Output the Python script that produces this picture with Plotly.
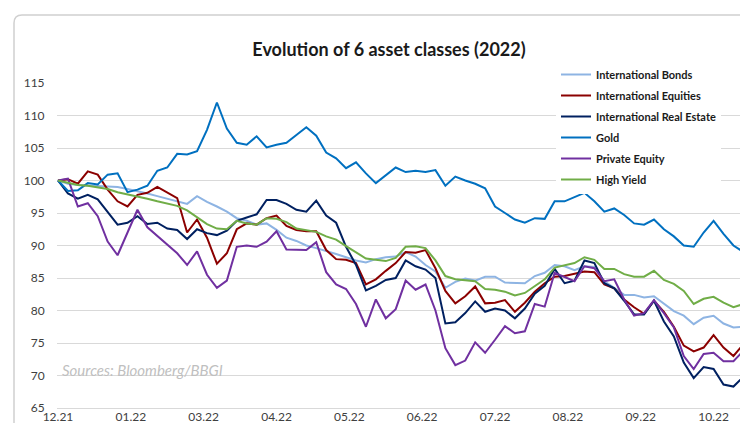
import plotly.graph_objects as go

# trading-day index of each sampled point (every 3rd session, last one is the final day)
day_index = list(range(0, 208, 3)) + [209]

tick_pos = [0, 22, 44, 66, 88, 110, 132, 154, 176, 198]
tick_labels = ["12.21", "01.22", "03.22", "04.22", "05.22",
               "06.22", "07.22", "08.22", "09.22", "10.22"]

intl_bonds = [
    100, 99.5, 99.3, 99.2, 99.1, 99.1, 99.0, 98.7, 98.4, 98.0,
    97.6, 97.2, 96.7, 96.4, 97.6, 96.7, 96.0, 95.2, 94.2, 93.8,
    93.2, 93.4, 92.4, 91.2, 90.7, 90.0, 89.6, 89.2, 88.7, 88.2,
    87.7, 87.4, 87.9, 88.2, 88.3, 89.0, 88.3, 87.0, 86.0, 83.5,
    84.4, 84.9, 84.6, 85.2, 85.2, 84.3, 84.3, 84.2, 85.3, 85.8,
    87.0, 86.8, 86.2, 86.8, 86.7, 84.5, 83.5, 82.4, 82.4, 82.0,
    82.2, 81.0, 79.9, 79.2, 77.9, 78.9, 79.2, 78.0, 77.4, 77.5,
    76.7]

intl_equities = [
    100, 100.2, 99.5, 101.4, 100.9, 98.6, 96.8, 96.0, 97.8, 98.1,
    99.0, 98.2, 97.3, 92.0, 94.0, 91.2, 87.2, 88.8, 92.5, 93.4,
    93.2, 94.2, 94.6, 93.0, 92.4, 92.2, 92.2, 89.3, 87.9, 87.8,
    87.3, 84.0, 84.8, 86.1, 87.3, 89.0, 88.9, 89.3, 86.5, 83.0,
    81.1, 82.2, 83.7, 81.1, 81.2, 81.6, 79.8, 81.2, 82.9, 84.2,
    85.2, 85.3, 85.7, 86.0, 85.9, 84.0, 83.4, 81.7, 80.5, 79.5,
    81.5, 79.8, 77.5, 74.6, 73.7, 74.3, 76.2, 74.3, 73.0, 74.8,
    74.0]

intl_real_estate = [
    100, 98.0, 97.2, 97.8, 97.1, 95.2, 93.2, 93.5, 94.5, 93.3,
    93.5, 92.6, 92.4, 91.0, 92.5, 91.9, 91.6, 92.3, 93.8, 94.3,
    94.8, 97.0, 97.0, 96.4, 95.5, 95.2, 96.9, 94.6, 93.5, 89.8,
    87.0, 83.1, 83.8, 84.7, 85.0, 87.7, 86.8, 86.3, 85.0, 78.0,
    78.2, 79.6, 81.4, 79.8, 80.3, 80.0, 78.8, 80.3, 82.6, 83.8,
    86.4, 84.2, 84.6, 87.7, 87.3, 84.2, 83.4, 81.5, 79.4, 79.4,
    81.5, 78.3, 76.0, 72.0, 69.6, 71.3, 71.0, 68.6, 68.3, 69.8,
    68.8]

gold = [
    100, 98.4, 98.5, 99.6, 99.4, 100.9, 101.1, 98.2, 98.6, 99.2,
    101.5, 102.0, 104.1, 104.0, 104.5, 107.8, 112.0, 108.0, 105.8, 105.5,
    106.8, 105.1, 105.5, 105.8, 107.0, 108.2, 106.9, 104.3, 103.4, 101.9,
    102.8, 101.1, 99.6, 100.8, 102.0, 101.3, 101.5, 101.3, 101.6, 99.2,
    100.6, 100.0, 99.5, 98.8, 96.0, 95.0, 94.0, 93.5, 94.2, 94.1,
    96.8, 96.8, 97.5, 98.1, 96.8, 95.2, 95.7, 94.7, 93.4, 93.2,
    94.0, 92.5, 91.4, 90.0, 89.8, 92.0, 93.8, 91.8, 90.0, 89.0,
    90.7]

private_equity = [
    100, 100.3, 96.0, 96.5, 94.5, 90.6, 88.5, 92.0, 95.5, 92.8,
    91.5, 90.2, 88.8, 87.0, 89.1, 85.5, 83.5, 84.6, 89.8, 90.0,
    89.8, 90.6, 92.2, 89.4, 89.4, 89.3, 90.5, 85.9, 84.0, 83.3,
    81.0, 77.5, 81.7, 78.8, 80.2, 84.6, 83.2, 84.0, 80.0, 74.2,
    71.6, 72.3, 75.1, 73.5, 75.5, 77.6, 76.5, 76.8, 81.0, 80.6,
    85.8, 85.2, 84.5, 86.8, 86.5, 84.5, 84.8, 81.7, 79.2, 79.6,
    81.6, 79.6, 77.4, 73.0, 71.0, 73.3, 73.5, 72.2, 72.2, 73.8,
    72.4]

high_yield = [
    100, 99.7, 99.3, 99.2, 98.9, 98.7, 98.2, 97.9, 97.5, 97.2,
    96.8, 96.4, 96.1, 95.4, 94.4, 93.3, 92.6, 92.5, 93.8, 93.4,
    93.2, 94.2, 94.1, 93.6, 92.6, 92.3, 92.1, 91.4, 90.9, 89.9,
    89.0, 88.0, 87.8, 87.6, 88.1, 89.8, 89.9, 89.6, 87.7, 85.3,
    84.8, 84.7, 84.5, 83.3, 83.2, 82.9, 82.3, 82.7, 83.7, 84.8,
    86.6, 86.9, 87.3, 88.2, 87.8, 86.4, 86.4, 85.6, 85.2, 85.2,
    86.1, 84.7, 84.1, 83.0, 81.0, 81.8, 82.1, 81.2, 80.5, 81.0,
    80.7]

series = [
    ("International Bonds", intl_bonds, "#8EB4E3"),
    ("International Equities", intl_equities, "#8B0000"),
    ("International Real Estate", intl_real_estate, "#002060"),
    ("Gold", gold, "#0070C0"),
    ("Private Equity", private_equity, "#7030A0"),
    ("High Yield", high_yield, "#70AD47"),
]

FONT = "Lato"
W, H = 748, 423
L, R, T, B = 49, 6, 75, 23
PW, PH = W - L - R, H - T - B


def px(x):  # pixel -> paper x
    return (x - L) / PW


def py(y):  # pixel -> paper y
    return (H - B - y) / PH


fig = go.Figure()
for name, vals, color in series:
    fig.add_trace(go.Scatter(x=day_index, y=vals, name=name, legendgroup=name,
                             mode="lines", line=dict(color=color, width=2)))

fig.update_layout(
    width=W, height=H,
    margin=dict(l=L, r=R, t=T, b=B, autoexpand=False),
    paper_bgcolor="white", plot_bgcolor="white",
    font=dict(family=FONT, color="#404040", size=12),
    title=dict(text="<b>Evolution of 6 asset classes (2022)</b>",
               x=381 / W, xref="container", xanchor="center",
               y=1 - 42 / H, yref="container", yanchor="middle",
               font=dict(family=FONT, size=18, color="#1a1a1a")),
    legend=dict(x=px(548), y=py(52), xanchor="left", yanchor="top",
                bgcolor="white", tracegroupgap=2,
                font=dict(family=FONT, size=11, color="#1a1a1a", weight="bold")),
    showlegend=True,
)
fig.update_xaxes(range=[-0.3, 209], tickvals=tick_pos, ticktext=tick_labels,
                 showgrid=False, zeroline=False, showline=True, automargin=False,
                 linecolor="#D9D9D9", linewidth=1, ticks="", ticklabelstandoff=-2,
                 tickfont=dict(size=12, color="#404040"))
fig.update_yaxes(range=[65, 115], dtick=5, gridcolor="#D9D9D9", gridwidth=1,
                 zeroline=False, showline=False, automargin=False,
                 ticks="outside", ticklen=9, tickcolor="rgba(0,0,0,0)",
                 tickfont=dict(size=12, color="#404040"))

fig.add_annotation(text="<i>Sources: Bloomberg/BBGI</i>", xref="paper", yref="paper",
                   x=px(52), y=py(362), xanchor="left", yanchor="middle",
                   showarrow=False, font=dict(family=FONT, size=15, color="#BFBFBF"))

# light frame around the chart card (left and top edges)
r = 8
fig.add_shape(type="path", xref="paper", yref="paper",
              path=(f"M {px(6)},{py(H + 5)} L {px(6)},{py(7 + r)} "
                    f"Q {px(6)},{py(7)} {px(6 + r)},{py(7)} L {px(W + 5)},{py(7)}"),
              line=dict(color="#D0D0D0", width=1.5))

fig.write_html("out.html")
